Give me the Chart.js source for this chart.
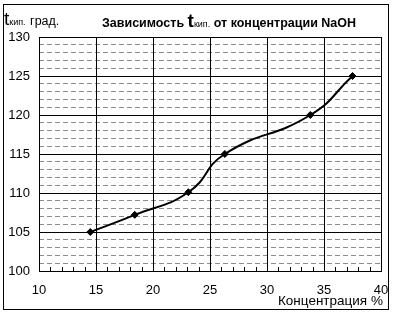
<!DOCTYPE html>
<html>
<head>
<meta charset="utf-8">
<script src="https://cdn.jsdelivr.net/npm/chart.js@4"></script>
<style>
  body { margin: 0; background: #fff; }
  #wrap { position: relative; width: 394px; height: 314px; font-family: "Liberation Sans", Arial, sans-serif; color: #000; }
  #frame { position: absolute; left: 3px; top: 4px; width: 384px; height: 304px; border: 1px solid #000; pointer-events: none; }
  .lbl { position: absolute; white-space: nowrap; line-height: 1; }
  .big { font-size: 19px; }
  .sub { font-size: 9px; }
</style>
</head>
<body>
<div id="wrap">
  <canvas id="chart" width="394" height="314"></canvas>
  <div id="frame"></div>
  <div class="lbl" style="left:4px; top:9px;"><span class="big">t</span><span class="sub">кип.</span> <span style="font-size:12.5px">град.</span></div>
  <div class="lbl" style="left:102px; top:11px; font-weight:bold; font-size:12.5px;">Зависимость <span class="big" style="font-weight:bold">t</span><span class="sub" style="font-weight:normal">кип.</span> от концентрации NaOH</div>
  <div class="lbl" style="left:278px; top:294px; font-size:13.5px;">Концентрация %</div>
</div>
<script>
// concentration, % and boiling temperature, °C
const concentration = [14.5, 18.4, 23.1, 26.3, 33.8, 37.5];
const boilingTemp = [105, 107.2, 110.1, 115, 120, 125];

const xTicks = [10, 15, 20, 25, 30, 35, 40];
const yTicks = [100, 105, 110, 115, 120, 125, 130];

// small tick marks along the bottom axis, every 1 %
const minorTicks = {
  id: 'minorTicks',
  afterDatasetsDraw(chart) {
    const ctx = chart.ctx;
    const x = chart.scales.x;
    const bottom = chart.chartArea.bottom;
    ctx.save();
    ctx.strokeStyle = '#000';
    ctx.lineWidth = 1;
    ctx.beginPath();
    for (let v = xTicks[0]; v <= xTicks[xTicks.length - 1]; v++) {
      const px = Math.round(x.getPixelForValue(v)) + 0.5;
      ctx.moveTo(px, bottom);
      ctx.lineTo(px, bottom - 4);
    }
    ctx.stroke();
    ctx.restore();
  }
};

const chart = new Chart(document.getElementById('chart'), {
  type: 'scatter',
  data: {
    datasets: [{
      data: concentration.map((c, i) => ({ x: c, y: boilingTemp[i] })),
      showLine: true,
      borderColor: '#000',
      borderWidth: 2,
      tension: 0.5,
      pointStyle: 'rectRot',
      pointRadius: 3.5,
      pointBackgroundColor: '#000',
      pointBorderColor: '#000',
      pointBorderWidth: 1,
    }]
  },
  options: {
    responsive: false,
    animation: false,
    layout: { padding: { left: 0, right: 13, top: 37, bottom: 0 } },
    plugins: { legend: { display: false }, tooltip: { enabled: false } },
    scales: {
      yMinor: {
        type: 'linear',
        position: 'left',
        min: 100, max: 130,
        display: true,
        afterFit(scale) { scale.width = 0; scale.paddingTop = 0; scale.paddingBottom = 0; },
        ticks: { display: false, stepSize: 1 },
        border: { display: false, dash: [5, 3] },
        grid: {
          drawTicks: false,
          color: ctx => (ctx.tick.value % 5 === 0 ? 'rgba(0,0,0,0)' : '#8c8c8c'),
          lineWidth: 1,
        },
        afterBuildTicks(scale) {
          scale.ticks = [];
          for (let v = 100; v <= 130; v++) scale.ticks.push({ value: v });
        },
      },
      x: {
        type: 'linear',
        min: 10, max: 40,
        afterFit(scale) { scale.height = 43; scale.paddingLeft = 0; scale.paddingRight = 0; },
        afterBuildTicks(scale) { scale.ticks = xTicks.map(v => ({ value: v })); },
        ticks: {
          color: '#000',
          font: { family: 'Liberation Sans', size: 13 },
          padding: 12,
          maxRotation: 0,
        },
        grid: { color: '#000', lineWidth: 1, drawTicks: false },
        border: { color: '#000', width: 1 },
      },
      y: {
        type: 'linear',
        position: 'left',
        min: 100, max: 130,
        afterFit(scale) { scale.width = 39; scale.paddingTop = 0; scale.paddingBottom = 0; },
        afterBuildTicks(scale) { scale.ticks = yTicks.map(v => ({ value: v })); },
        ticks: {
          color: '#000',
          font: { family: 'Liberation Sans', size: 13 },
          padding: 9,
        },
        grid: { color: '#000', lineWidth: 1, drawTicks: false },
        border: { color: '#000', width: 1 },
      }
    }
  },
  plugins: [minorTicks]
});
</script>
</body>
</html>
